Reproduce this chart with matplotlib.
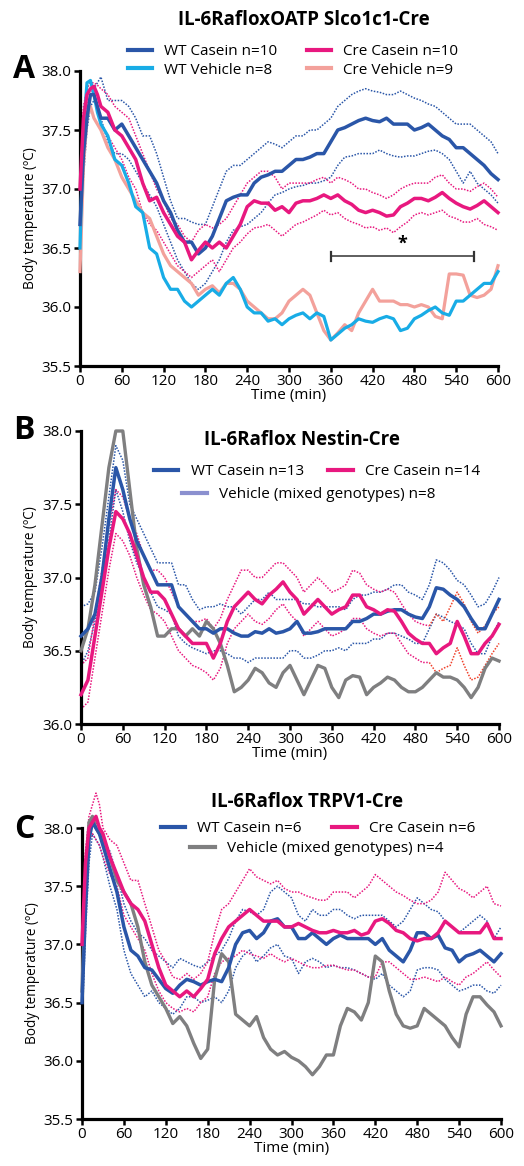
import matplotlib
matplotlib.use('Agg')
import matplotlib.pyplot as plt
from matplotlib.lines import Line2D

plt.rcParams['font.family'] = ['Open Sans', 'DejaVu Sans']

# time grids (min)
t_a = [0, 5, 10, 15, 20, 25, 30] + list(range(40, 601, 10))
t_b = list(range(0, 601, 10))
t_c = t_a

# ---- panel A: IL-6RafloxOATP Slco1c1-Cre
a_wt_cas = [36.7, 37.3, 37.6, 37.8, 37.8, 37.7, 37.6,
            37.6, 37.5, 37.55, 37.45, 37.35, 37.25, 37.15, 37.05, 36.9, 36.8,
            36.65, 36.55, 36.55, 36.45, 36.5, 36.6, 36.75, 36.9, 36.93, 36.95,
            36.95, 37.05, 37.1, 37.12, 37.15, 37.15, 37.2, 37.25, 37.25, 37.27,
            37.3, 37.3, 37.4, 37.5, 37.52, 37.55, 37.58, 37.6, 37.58, 37.57,
            37.6, 37.55, 37.55, 37.55, 37.5, 37.52, 37.55, 37.5, 37.45, 37.42,
            37.35, 37.35, 37.3, 37.25, 37.2, 37.13, 37.08]
a_wt_cas_hi = [36.9, 37.4, 37.7, 37.8, 37.85, 37.9, 37.95,
               37.75, 37.75, 37.75, 37.7, 37.6, 37.45, 37.45, 37.3, 37.1, 36.9,
               36.75, 36.75, 36.72, 36.7, 36.7, 36.85, 37.0, 37.15, 37.2, 37.2,
               37.25, 37.3, 37.35, 37.4, 37.38, 37.35, 37.4, 37.45, 37.45, 37.5,
               37.5, 37.55, 37.6, 37.7, 37.75, 37.8, 37.83, 37.85, 37.83, 37.82,
               37.8, 37.8, 37.83, 37.8, 37.77, 37.75, 37.72, 37.7, 37.65, 37.6,
               37.55, 37.55, 37.55, 37.5, 37.45, 37.4, 37.3]
a_wt_cas_lo = [36.5, 37.1, 37.5, 37.7, 37.75, 37.7, 37.6,
               37.4, 37.3, 37.3, 37.25, 37.15, 37.05, 36.95, 36.85, 36.7, 36.55,
               36.4, 36.3, 36.2, 36.15, 36.2, 36.3, 36.4, 36.55, 36.65, 36.68,
               36.7, 36.75, 36.8, 36.88, 36.95, 36.97, 37.0, 37.02, 37.03, 37.05,
               37.05, 37.07, 37.1, 37.2, 37.27, 37.28, 37.3, 37.3, 37.3, 37.33,
               37.3, 37.28, 37.27, 37.28, 37.28, 37.3, 37.32, 37.33, 37.3, 37.25,
               37.15, 37.05, 37.15, 37.05, 37.0, 36.95, 36.88]
a_cre_cas = [37.0, 37.6, 37.8, 37.85, 37.87, 37.8, 37.7,
             37.65, 37.5, 37.45, 37.35, 37.25, 37.05, 36.9, 36.93, 36.8, 36.7,
             36.6, 36.55, 36.4, 36.48, 36.55, 36.5, 36.55, 36.5, 36.6, 36.7,
             36.85, 36.9, 36.88, 36.88, 36.82, 36.85, 36.8, 36.88, 36.9, 36.9,
             36.92, 36.95, 36.92, 36.95, 36.9, 36.87, 36.82, 36.8, 36.82, 36.8,
             36.77, 36.78, 36.85, 36.88, 36.92, 36.92, 36.9, 36.93, 36.97, 36.92,
             36.88, 36.85, 36.83, 36.86, 36.9, 36.85, 36.8]
a_cre_cas_hi = [37.2, 37.7, 37.85, 37.9, 37.9, 37.88, 37.85,
                37.8, 37.7, 37.65, 37.6, 37.45, 37.3, 37.15, 37.0, 36.9, 36.75,
                36.7, 36.6, 36.55, 36.65, 36.7, 36.67, 36.7, 36.75, 36.85, 36.95,
                37.05, 37.1, 37.15, 37.15, 37.1, 37.0, 37.05, 37.05, 37.05, 37.05,
                37.08, 37.1, 37.05, 37.1, 37.08, 37.05, 37.0, 37.0, 36.97, 36.95,
                36.92, 36.95, 37.0, 37.03, 37.05, 37.05, 37.05, 37.1, 37.12, 37.05,
                37.0, 37.0, 36.98, 37.02, 37.05, 37.0, 36.93]
a_cre_cas_lo = [36.8, 37.4, 37.7, 37.8, 37.85, 37.7, 37.55,
                37.45, 37.35, 37.25, 37.1, 37.0, 36.8, 36.7, 36.65, 36.55, 36.45,
                36.35, 36.3, 36.25, 36.3, 36.35, 36.4, 36.3, 36.4, 36.5, 36.55,
                36.62, 36.67, 36.68, 36.7, 36.65, 36.6, 36.65, 36.7, 36.72, 36.75,
                36.78, 36.82, 36.78, 36.8, 36.75, 36.72, 36.7, 36.67, 36.68, 36.65,
                36.67, 36.63, 36.68, 36.72, 36.78, 36.8, 36.78, 36.8, 36.82, 36.77,
                36.75, 36.72, 36.72, 36.75, 36.7, 36.68, 36.65]
a_wt_veh = [36.5, 37.5, 37.9, 37.92, 37.8, 37.65, 37.55,
            37.45, 37.25, 37.2, 37.05, 36.85, 36.8, 36.5, 36.45, 36.25, 36.15,
            36.15, 36.05, 36.0, 36.05, 36.1, 36.15, 36.1, 36.2, 36.25, 36.15,
            36.0, 35.95, 35.95, 35.88, 35.9, 35.85, 35.9, 35.93, 35.95, 35.9,
            35.95, 35.92, 35.72, 35.77, 35.82, 35.85, 35.9, 35.88, 35.87, 35.9,
            35.92, 35.9, 35.8, 35.82, 35.9, 35.93, 35.97, 36.0, 35.95, 35.93,
            36.05, 36.05, 36.1, 36.15, 36.2, 36.2, 36.3]
a_cre_veh = [36.3, 37.2, 37.6, 37.7, 37.6, 37.55, 37.5,
             37.35, 37.25, 37.1, 37.0, 36.9, 36.8, 36.75, 36.6, 36.45, 36.35,
             36.3, 36.25, 36.2, 36.1, 36.15, 36.18, 36.12, 36.2, 36.2, 36.15,
             36.05, 36.0, 35.95, 35.9, 35.9, 35.95, 36.05, 36.1, 36.15, 36.1,
             35.95, 35.8, 35.72, 35.78, 35.85, 35.8, 35.95, 36.05, 36.15, 36.05,
             36.05, 36.05, 36.02, 36.02, 36.0, 36.02, 36.0, 35.92, 35.9, 36.28,
             36.28, 36.27, 36.1, 36.08, 36.1, 36.15, 36.35]
sig_span = [360, 566]

# ---- panel B: IL-6Raflox Nestin-Cre
b_wt_cas = [36.6, 36.65, 36.75, 37.0, 37.4, 37.75, 37.6, 37.4, 37.25, 37.15,
            37.05, 36.95, 36.95, 36.95, 36.8, 36.75, 36.7, 36.65, 36.65, 36.62,
            36.65, 36.65, 36.62, 36.6, 36.6, 36.63, 36.62, 36.65, 36.62, 36.63,
            36.65, 36.7, 36.62, 36.62, 36.63, 36.65, 36.65, 36.65, 36.65, 36.7,
            36.7, 36.72, 36.75, 36.75, 36.77, 36.78, 36.78, 36.75, 36.73, 36.72,
            36.8, 36.93, 36.92, 36.88, 36.85, 36.8, 36.72, 36.65, 36.65, 36.75,
            36.85]
b_wt_hi = [36.8, 36.82, 36.9, 37.2, 37.55, 37.9, 37.8, 37.5, 37.4, 37.3,
           37.2, 37.1, 37.1, 37.1, 36.95, 36.95, 36.85, 36.78, 36.8, 36.8,
           36.82, 36.8, 36.8, 36.75, 36.8, 36.85, 36.85, 36.9, 36.85, 36.85,
           36.85, 36.85, 36.82, 36.82, 36.8, 36.8, 36.8, 36.8, 36.78, 36.85,
           36.88, 36.88, 36.9, 36.9, 36.92, 36.95, 36.95, 36.9, 36.88, 36.85,
           36.95, 37.12, 37.1, 37.05, 36.98, 36.95, 36.88, 36.8, 36.82, 36.9,
           37.0]
b_wt_lo = [36.4, 36.5, 36.7, 36.9, 37.25, 37.6, 37.45, 37.25, 37.1, 37.0,
           36.9, 36.8, 36.78, 36.75, 36.6, 36.55, 36.52, 36.5, 36.48, 36.5,
           36.5, 36.48, 36.45, 36.45, 36.42, 36.45, 36.45, 36.45, 36.45, 36.45,
           36.5, 36.5, 36.45, 36.45, 36.47, 36.5, 36.5, 36.52, 36.5, 36.55,
           36.55, 36.55, 36.58, 36.58, 36.62, 36.62, 36.6, 36.58, 36.55, 36.55,
           36.65, 36.75, 36.73, 36.7, 36.68, 36.65, 36.55, 36.48, 36.48, 36.6,
           36.7]
b_cre_cas = [36.2, 36.3, 36.6, 36.9, 37.2, 37.45, 37.4, 37.3, 37.15, 37.0,
             36.9, 36.9, 36.85, 36.75, 36.65, 36.6, 36.55, 36.55, 36.55, 36.45,
             36.55, 36.7, 36.8, 36.85, 36.9, 36.85, 36.82, 36.88, 36.92, 36.97,
             36.9, 36.85, 36.75, 36.8, 36.85, 36.8, 36.75, 36.78, 36.8, 36.88,
             36.88, 36.8, 36.78, 36.75, 36.78, 36.77, 36.7, 36.62, 36.58, 36.55,
             36.55, 36.48, 36.52, 36.55, 36.7, 36.6, 36.48, 36.48, 36.55, 36.6,
             36.68]
b_cre_hi = [36.4, 36.45, 36.75, 37.05, 37.35, 37.6, 37.55, 37.4, 37.3, 37.15,
            37.05, 37.05, 37.0, 36.9, 36.8, 36.75, 36.7, 36.7, 36.72, 36.65,
            36.72, 36.85, 36.95, 37.05, 37.05, 37.0, 37.0, 37.05, 37.1, 37.1,
            37.05, 37.0, 36.9, 36.95, 37.0, 36.95, 36.9, 36.92, 36.95, 37.05,
            37.03, 36.95, 36.92, 36.9, 36.92, 36.9, 36.82, 36.75, 36.7, 36.68,
            36.67, 36.75, 36.7, 36.8, 36.9, 36.82, 36.7, 36.62, 36.67, 36.75,
            36.8]
b_cre_lo = [36.1, 36.15, 36.45, 36.75, 37.05, 37.3, 37.25, 37.15, 37.0, 36.88,
            36.78, 36.75, 36.7, 36.6, 36.5, 36.45, 36.4, 36.38, 36.35, 36.3,
            36.38, 36.55, 36.65, 36.7, 36.75, 36.7, 36.68, 36.72, 36.78, 36.82,
            36.75, 36.7, 36.6, 36.65, 36.7, 36.65, 36.6, 36.62, 36.65, 36.72,
            36.72, 36.65, 36.62, 36.6, 36.62, 36.62, 36.55, 36.48, 36.45, 36.42,
            36.42, 36.35, 36.38, 36.4, 36.52, 36.4, 36.3, 36.32, 36.4, 36.48,
            36.55]
b_veh = [36.5, 36.65, 36.95, 37.35, 37.75, 38.0, 38.0, 37.6, 37.2, 36.95,
         36.8, 36.6, 36.6, 36.65, 36.65, 36.6, 36.65, 36.6, 36.7, 36.65,
         36.55, 36.4, 36.22, 36.25, 36.3, 36.38, 36.35, 36.28, 36.25, 36.35,
         36.4, 36.3, 36.2, 36.3, 36.4, 36.38, 36.25, 36.18, 36.3, 36.33,
         36.32, 36.2, 36.25, 36.28, 36.32, 36.3, 36.25, 36.22, 36.22, 36.25,
         36.3, 36.35, 36.32, 36.32, 36.3, 36.25, 36.18, 36.25, 36.38, 36.45,
         36.43]
b_red_from = 500  # Cre SEM lines are drawn red-orange from here on

# ---- panel C: IL-6Raflox TRPV1-Cre
c_wt_cas = [36.5, 37.3, 37.9, 38.05, 38.0, 37.95, 37.85,
            37.65, 37.45, 37.15, 36.95, 36.9, 36.8, 36.78, 36.7, 36.62, 36.58,
            36.65, 36.7, 36.68, 36.65, 36.68, 36.7, 36.68, 36.8, 37.0, 37.1,
            37.12, 37.05, 37.1, 37.2, 37.22, 37.15, 37.15, 37.05, 37.05, 37.1,
            37.05, 37.0, 37.05, 37.08, 37.05, 37.05, 37.05, 37.05, 37.0, 37.05,
            36.95, 36.9, 36.85, 36.95, 37.1, 37.1, 37.05, 37.08, 36.97, 36.95,
            36.85, 36.9, 36.92, 36.95, 36.9, 36.85, 36.92]
c_wt_hi = [36.7, 37.5, 38.0, 38.1, 38.05, 38.0, 37.9,
           37.8, 37.6, 37.35, 37.2, 37.1, 37.05, 36.95, 36.9, 36.85, 36.8,
           36.88, 36.85, 36.82, 36.8, 36.85, 36.9, 36.95, 37.05, 37.2, 37.3,
           37.28, 37.25, 37.3, 37.45, 37.5, 37.45, 37.4, 37.25, 37.2, 37.3,
           37.25, 37.25, 37.3, 37.3, 37.25, 37.22, 37.25, 37.25, 37.25, 37.25,
           37.2, 37.15, 37.2, 37.3, 37.4, 37.35, 37.3, 37.28, 37.2, 37.15,
           37.1, 37.15, 37.2, 37.25, 37.2, 37.05, 37.15]
c_wt_lo = [36.3, 37.1, 37.7, 37.95, 37.9, 37.85, 37.75,
           37.5, 37.3, 36.95, 36.75, 36.65, 36.55, 36.6, 36.5, 36.45, 36.4,
           36.45, 36.55, 36.55, 36.5, 36.52, 36.55, 36.5, 36.6, 36.8, 36.9,
           36.95, 36.85, 36.9, 36.97, 37.0, 36.9, 36.88, 36.75, 36.85, 36.88,
           36.85, 36.8, 36.82, 36.8, 36.8, 36.78, 36.75, 36.72, 36.7, 36.75,
           36.65, 36.6, 36.55, 36.6, 36.78, 36.8, 36.8, 36.78, 36.7, 36.65,
           36.6, 36.62, 36.65, 36.65, 36.6, 36.58, 36.65]
c_cre_cas = [37.0, 37.7, 38.0, 38.05, 38.1, 38.0, 37.95,
             37.75, 37.6, 37.45, 37.35, 37.3, 37.2, 37.0, 36.8, 36.65, 36.6,
             36.55, 36.6, 36.55, 36.62, 36.7, 36.92, 37.05, 37.15, 37.2, 37.25,
             37.3, 37.25, 37.2, 37.2, 37.2, 37.15, 37.15, 37.18, 37.15, 37.12,
             37.1, 37.1, 37.12, 37.1, 37.1, 37.12, 37.08, 37.1, 37.2, 37.22,
             37.18, 37.12, 37.1, 37.05, 37.03, 37.05, 37.05, 37.1, 37.2, 37.15,
             37.1, 37.1, 37.1, 37.1, 37.18, 37.05, 37.05]
c_cre_hi = [37.2, 37.8, 38.1, 38.2, 38.3, 38.2, 38.0,
            37.9, 37.85, 37.7, 37.55, 37.55, 37.35, 37.15, 36.95, 36.85, 36.72,
            36.7, 36.75, 36.7, 36.75, 36.85, 37.1, 37.3, 37.35, 37.45, 37.55,
            37.65, 37.58, 37.55, 37.52, 37.55, 37.48, 37.45, 37.45, 37.42, 37.4,
            37.38, 37.38, 37.45, 37.45, 37.45, 37.4, 37.45, 37.5, 37.6, 37.55,
            37.5, 37.45, 37.42, 37.38, 37.35, 37.35, 37.38, 37.45, 37.62, 37.55,
            37.48, 37.45, 37.4, 37.45, 37.5, 37.35, 37.33]
c_cre_lo = [36.8, 37.5, 37.9, 37.95, 37.9, 37.85, 37.75,
            37.6, 37.5, 37.25, 37.15, 37.05, 36.95, 36.75, 36.6, 36.5, 36.45,
            36.42, 36.45, 36.42, 36.5, 36.55, 36.75, 36.85, 36.88, 36.9, 36.95,
            36.92, 36.9, 36.88, 36.92, 36.88, 36.85, 36.88, 36.85, 36.82, 36.8,
            36.8, 36.82, 36.82, 36.8, 36.78, 36.78, 36.75, 36.72, 36.72, 36.85,
            36.85, 36.8, 36.75, 36.7, 36.7, 36.72, 36.7, 36.68, 36.72, 36.68,
            36.65, 36.72, 36.75, 36.8, 36.85, 36.78, 36.72]
c_veh = [36.6, 37.5, 38.05, 38.1, 38.0, 37.95, 37.9,
         37.75, 37.55, 37.45, 37.35, 37.15, 36.85, 36.65, 36.55, 36.45, 36.32,
         36.38, 36.3, 36.15, 36.02, 36.1, 36.7, 36.92, 36.85, 36.4, 36.35,
         36.3, 36.38, 36.2, 36.1, 36.05, 36.08, 36.03, 36.0, 35.95, 35.88,
         35.95, 36.05, 36.05, 36.3, 36.45, 36.42, 36.35, 36.5, 36.9, 36.85,
         36.6, 36.4, 36.3, 36.28, 36.3, 36.45, 36.4, 36.35, 36.3, 36.2,
         36.12, 36.4, 36.55, 36.55, 36.48, 36.42, 36.3]

DBLUE = '#2a56a8'
MAGENTA = '#e8187f'
LBLUE = '#18ace6'
SALMON = '#f3a19b'
GRAY = '#7f7f80'
LAVENDER = '#8b90cf'
RED = '#f0402a'

FS = 11  # legend / tick text
fig = plt.figure(figsize=(5.24, 11.66), dpi=100)
W, H = 524.0, 1166.0


def make_ax(left, right, top, bottom, ylo, yhi):
    ax = fig.add_axes([left / W, 1 - bottom / H, (right - left) / W, (bottom - top) / H])
    ax.set_xlim(0, 600)
    ax.set_ylim(ylo, yhi)
    ax.set_xticks(range(0, 601, 60))
    ax.set_yticks([v / 10 for v in range(int(ylo * 10), int(yhi * 10) + 1, 5)])
    ax.yaxis.set_major_formatter(matplotlib.ticker.FormatStrFormatter('%.1f'))
    for s in ['top', 'right']:
        ax.spines[s].set_visible(False)
    for s in ['left', 'bottom']:
        ax.spines[s].set_linewidth(2.3)
    ax.tick_params(direction='out', length=4, width=1.8, labelsize=FS, pad=2)
    ax.set_xlabel('Time (min)', fontsize=FS, labelpad=-1)
    ax.set_ylabel('Body temperature (ºC)', fontsize=9.8, labelpad=3)
    return ax


def dots(ax, t, y, c):
    ax.plot(t, y, color=c, lw=1.1, ls=(0, (1, 1)), clip_on=False, zorder=2)


def solid(ax, t, y, c, lw=2.4, z=3):
    ax.plot(t, y, color=c, lw=lw, clip_on=False, zorder=z, solid_joinstyle='round')


# ---------- A
axA = make_ax(80, 498, 71, 366, 35.5, 38.0)
dots(axA, t_a, a_wt_cas_hi, DBLUE)
dots(axA, t_a, a_wt_cas_lo, DBLUE)
dots(axA, t_a, a_cre_cas_hi, MAGENTA)
dots(axA, t_a, a_cre_cas_lo, MAGENTA)
solid(axA, t_a, a_cre_veh, SALMON, 2.3)
solid(axA, t_a, a_wt_veh, LBLUE, 2.3)
solid(axA, t_a, a_wt_cas, DBLUE, 2.5, 4)
solid(axA, t_a, a_cre_cas, MAGENTA, 2.5, 4)
axA.plot(sig_span, [36.43, 36.43], color='#333333', lw=1.1)
for xs in sig_span:
    axA.plot([xs, xs], [36.39, 36.47], color='#333333', lw=1.6)
axA.text(sum(sig_span) / 2, 36.46, '*', ha='center', va='bottom', fontsize=13, fontweight='bold')
hA = [Line2D([], [], color=DBLUE, lw=3), Line2D([], [], color=LBLUE, lw=3),
      Line2D([], [], color=MAGENTA, lw=3), Line2D([], [], color=SALMON, lw=3)]
axA.legend(hA, ['WT Casein n=10', 'WT Vehicle n=8', 'Cre Casein n=10', 'Cre Vehicle n=9'],
           ncol=2, loc='center', bbox_to_anchor=(293 / W, 1 - 61 / H), bbox_transform=fig.transFigure,
           frameon=False, fontsize=FS, handlelength=1.6, handletextpad=0.8, columnspacing=1.9,
           labelspacing=0.22, borderpad=0)
fig.text(304 / W, 1 - 20 / H, 'IL-6RafloxOATP Slco1c1-Cre', ha='center', va='center',
         fontsize=13.5, fontweight='bold')
fig.text(24 / W, 1 - 70 / H, 'A', ha='center', va='center', fontsize=23, fontweight='bold')

# ---------- B
axB = make_ax(81, 499, 431, 724, 36.0, 38.0)
split = t_b.index(b_red_from)
dots(axB, t_b, b_wt_hi, DBLUE)
dots(axB, t_b, b_wt_lo, DBLUE)
dots(axB, t_b[:split + 1], b_cre_hi[:split + 1], MAGENTA)
dots(axB, t_b[:split + 1], b_cre_lo[:split + 1], MAGENTA)
dots(axB, t_b[split:], b_cre_hi[split:], RED)
dots(axB, t_b[split:], b_cre_lo[split:], RED)
solid(axB, t_b, b_veh, GRAY, 2.4)
solid(axB, t_b, b_wt_cas, DBLUE, 2.5, 4)
solid(axB, t_b, b_cre_cas, MAGENTA, 2.5, 4)
legB1 = axB.legend([Line2D([], [], color=DBLUE, lw=3), Line2D([], [], color=MAGENTA, lw=3)],
                   ['WT Casein n=13', 'Cre Casein n=14'], ncol=2, loc='center',
                   bbox_to_anchor=(317 / W, 1 - 472 / H), bbox_transform=fig.transFigure,
                   frameon=False, fontsize=FS, handlelength=1.6, handletextpad=0.8,
                   columnspacing=1.6, borderpad=0)
axB.add_artist(legB1)
axB.legend([Line2D([], [], color=LAVENDER, lw=3)], ['Vehicle (mixed genotypes) n=8'], loc='center',
           bbox_to_anchor=(309 / W, 1 - 495 / H), bbox_transform=fig.transFigure,
           frameon=False, fontsize=FS, handlelength=1.6, handletextpad=0.8, borderpad=0)
fig.text(302 / W, 1 - 440 / H, 'IL-6Raflox Nestin-Cre', ha='center', va='center',
         fontsize=13.5, fontweight='bold')
fig.text(24 / W, 1 - 431 / H, 'B', ha='center', va='center', fontsize=23, fontweight='bold')

# ---------- C
axC = make_ax(82, 501, 828, 1119, 35.5, 38.0)
dots(axC, t_c, c_wt_hi, DBLUE)
dots(axC, t_c, c_wt_lo, DBLUE)
dots(axC, t_c, c_cre_hi, MAGENTA)
dots(axC, t_c, c_cre_lo, MAGENTA)
solid(axC, t_c, c_veh, GRAY, 2.4)
solid(axC, t_c, c_wt_cas, DBLUE, 2.5, 4)
solid(axC, t_c, c_cre_cas, MAGENTA, 2.5, 4)
legC1 = axC.legend([Line2D([], [], color=DBLUE, lw=3), Line2D([], [], color=MAGENTA, lw=3)],
                   ['WT Casein n=6', 'Cre Casein n=6'], ncol=2, loc='center',
                   bbox_to_anchor=(318 / W, 1 - 829 / H), bbox_transform=fig.transFigure,
                   frameon=False, fontsize=FS, handlelength=1.6, handletextpad=0.8,
                   columnspacing=2.0, borderpad=0)
axC.add_artist(legC1)
axC.legend([Line2D([], [], color=GRAY, lw=3)], ['Vehicle (mixed genotypes) n=4'], loc='center',
           bbox_to_anchor=(317 / W, 1 - 849 / H), bbox_transform=fig.transFigure,
           frameon=False, fontsize=FS, handlelength=1.6, handletextpad=0.8, borderpad=0)
fig.text(307 / W, 1 - 802 / H, 'IL-6Raflox TRPV1-Cre', ha='center', va='center',
         fontsize=13.5, fontweight='bold')
fig.text(24 / W, 1 - 830 / H, 'C', ha='center', va='center', fontsize=23, fontweight='bold')

fig.savefig('out.png', dpi=100)
